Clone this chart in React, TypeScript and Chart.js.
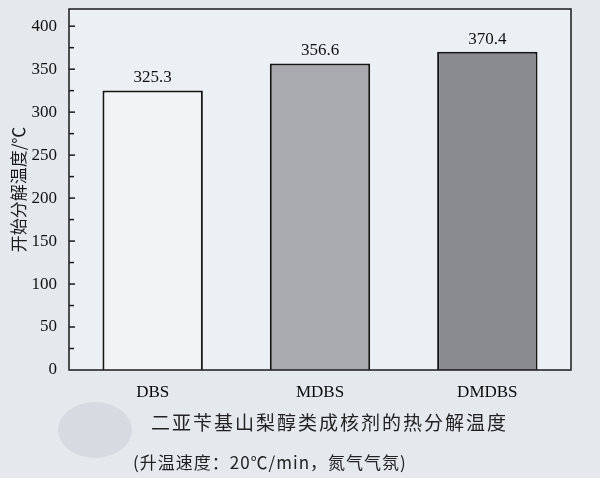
import { useEffect, useRef } from "react";
import { Chart, registerables } from "chart.js";

Chart.register(...registerables);

const categories = ["DBS", "MDBS", "DMDBS"];
const values = [325.3, 356.6, 370.4];
const barColors = ["#f1f3f5", "#a9aaad", "#8a8b8f"];
const yTickValues = [0, 25, 50, 75, 100, 125, 150, 175, 200, 225, 250, 275, 300, 325, 350, 375, 400];
const yTitle = "开始分解温度/℃";
const caption = "二亚苄基山梨醇类成核剂的热分解温度";
const subCaption = "(升温速度：20℃/min，氮气气氛)";

const PAGE_BG = "#e5e9ee";

// frame, inward ticks (major + minor) and value labels
const decorations = {
  id: "decorations",
  beforeDatasetsDraw(chart: any) {
    const { ctx, chartArea } = chart;
    ctx.save();
    ctx.fillStyle = "#eceff3";
    ctx.fillRect(chartArea.left, chartArea.top, chartArea.right - chartArea.left, chartArea.bottom - chartArea.top);
    ctx.restore();
  },
  afterDatasetsDraw(chart: any) {
    const { ctx, chartArea, scales } = chart;
    const y = scales.y;
    ctx.save();
    ctx.strokeStyle = "#1a1a1a";
    ctx.lineWidth = 1.5;
    ctx.strokeRect(chartArea.left, chartArea.top, chartArea.right - chartArea.left, chartArea.bottom - chartArea.top);
    y.ticks.forEach((t: any) => {
      if (t.value === 0) return;
      const py = y.getPixelForValue(t.value);
      const len = t.value % 50 === 0 ? 6 : 5;
      ctx.beginPath();
      ctx.moveTo(chartArea.left, py);
      ctx.lineTo(chartArea.left + len, py);
      ctx.stroke();
    });
    const meta = chart.getDatasetMeta(0);
    ctx.fillStyle = "#111";
    ctx.font = "17px 'Liberation Serif', serif";
    ctx.textAlign = "center";
    ctx.textBaseline = "bottom";
    meta.data.forEach((bar: any, i: number) => {
      ctx.fillText(values[i].toFixed(1), bar.x, bar.y - 4);
    });
    ctx.restore();
  },
};

const App = () => {
  const canvasRef = useRef<HTMLCanvasElement>(null);

  useEffect(() => {
    if (!canvasRef.current) return;
    const chart = new Chart(canvasRef.current, {
      type: "bar",
      data: {
        labels: categories,
        datasets: [
          {
            data: values,
            backgroundColor: barColors,
            borderColor: "#151515",
            borderWidth: 2,
            categoryPercentage: 1,
            barPercentage: 0.6,
          },
        ],
      },
      options: {
        responsive: false,
        animation: false,
        layout: { padding: { top: 9, right: 29, left: 0, bottom: 0 } },
        plugins: { legend: { display: false }, tooltip: { enabled: false } },
        scales: {
          x: {
            grid: { display: false },
            border: { display: false },
            afterFit: (s: any) => {
              s.height = 108;
            },
            ticks: {
              padding: 4,
              color: "#0a0a0a",
              font: { family: "'Liberation Serif', serif", size: 17 },
            },
          },
          y: {
            min: 0,
            max: 420,
            grid: { display: false },
            border: { display: false },
            afterFit: (s: any) => {
              s.width = 69;
              s.paddingTop = 0;
              s.paddingBottom = 0;
            },
            afterBuildTicks: (s: any) => {
              s.ticks = yTickValues.map((v) => ({ value: v }));
            },
            title: {
              display: true,
              text: yTitle,
              color: "#1a1a1a",
              padding: { top: 8, bottom: 0 },
              font: { family: "'Noto Sans CJK SC', sans-serif", size: 17 },
            },
            ticks: {
              autoSkip: false,
              padding: 4,
              color: "#111",
              font: { family: "'Liberation Serif', serif", size: 17 },
              callback: (v: any) => (Number(v) % 50 === 0 ? String(v) : ""),
            },
          },
        },
      },
      plugins: [decorations],
    });
    return () => {
      chart.destroy();
    };
  }, []);

  return (
    <div style={{ position: "fixed", left: 0, top: 0, width: 600, height: 478, background: PAGE_BG, overflow: "hidden" }}>
      <canvas ref={canvasRef} width={600} height={478} style={{ position: "absolute", left: 0, top: 0 }} />
      <div
        style={{
          position: "absolute",
          left: 58,
          top: 402,
          width: 74,
          height: 56,
          borderRadius: "50%",
          background: "#d7dbe1",
        }}
      />
      <div
        style={{
          position: "absolute",
          left: 151,
          top: 409,
          fontFamily: "'Noto Sans CJK SC', sans-serif",
          fontSize: 19,
          letterSpacing: 2,
          color: "#222",
          whiteSpace: "nowrap",
          lineHeight: "26px",
        }}
      >
        {caption}
      </div>
      <div
        style={{
          position: "absolute",
          left: 133,
          top: 449,
          fontFamily: "'Noto Sans CJK SC', sans-serif",
          fontSize: 17,
          letterSpacing: 1,
          color: "#222",
          whiteSpace: "nowrap",
          lineHeight: "26px",
        }}
      >
        {subCaption}
      </div>
    </div>
  );
};

export default App;
